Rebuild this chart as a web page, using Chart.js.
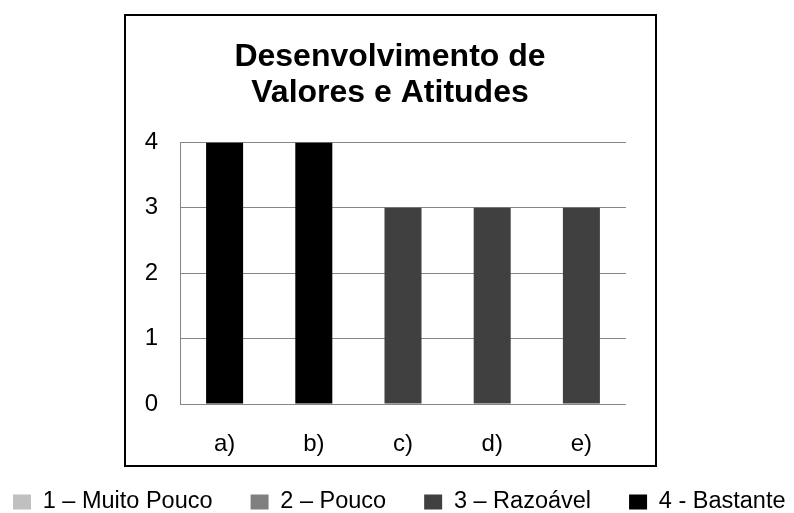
<!DOCTYPE html>
<html>
<head>
<meta charset="utf-8">
<script src="https://cdn.jsdelivr.net/npm/chart.js@4/dist/chart.umd.min.js"></script>
<style>
  html, body { margin: 0; padding: 0; background: #fff; }
  #wrap { width: 794px; height: 513px; position: relative; }
</style>
</head>
<body>
<div id="wrap"><canvas id="c" width="794" height="513"></canvas></div>
<script>
const categories = ['a)', 'b)', 'c)', 'd)', 'e)'];
const values = [4, 4, 3, 3, 3];
const levelLabels = ['1 – Muito Pouco', '2 – Pouco', '3 – Razoável', '4 - Bastante'];
const levelColors = ['#c0c0c0', '#808080', '#404040', '#000000'];
const yTicks = [0, 1, 2, 3, 4];
const titleLines = ['Desenvolvimento de', 'Valores e Atitudes'];

const barColors = values.map(v => levelColors[v - 1]);
const FONT = "'Liberation Sans', Arial, sans-serif";
const LEG_FONT = 23.5;
const LEG_PAD = 38;
const LEG_BOX_W = 18;
const LEG_BOX_H = 15;

const framePlugin = {
  id: 'frame',
  beforeLayout(chart) {
    const lg = chart.legend;
    if (lg && !lg._patched) {
      lg._patched = true;
      const origFit = lg.fit;
      lg.fit = function () {
        this.maxWidth = 3000;
        origFit.call(this);
        this.height = 0;
      };
    }
  },
  afterLayout(chart) {
    const lg = chart.legend;
    if (lg) {
      const itemH = Math.max(LEG_FONT, LEG_BOX_H);
      const rowY = 502 - itemH / 2;
      lg.left = 13 - LEG_PAD;
      lg.right = 3000;
      lg.top = rowY - LEG_PAD;
      lg.bottom = 520;
      lg.width = lg.right - lg.left;
      lg.height = lg.bottom - lg.top;
    }
  },
  beforeDraw(chart) {
    const ctx = chart.ctx;
    ctx.save();
    ctx.fillStyle = '#fff';
    ctx.fillRect(0, 0, chart.width, chart.height);
    ctx.restore();
  },
  afterDraw(chart) {
    const ctx = chart.ctx;
    ctx.save();
    ctx.strokeStyle = '#000';
    ctx.lineWidth = 2;
    ctx.strokeRect(125, 15, 531, 451);
    ctx.restore();
  }
};

new Chart(document.getElementById('c'), {
  type: 'bar',
  data: {
    labels: categories,
    datasets: [{
      data: values,
      backgroundColor: barColors,
      borderWidth: 0,
      barPercentage: 0.415,
      categoryPercentage: 1.0
    }]
  },
  options: {
    responsive: false,
    animation: false,
    layout: { padding: { left: -7, right: 7, top: 0, bottom: 0 } },
    plugins: {
      tooltip: { enabled: false },
      title: {
        display: true,
        text: titleLines,
        color: '#000',
        font: { family: FONT, size: 32, weight: 'bold', lineHeight: 1.1 },
        padding: { top: 40, bottom: 32 }
      },
      legend: {
        display: true,
        position: 'bottom',
        align: 'start',
        labels: {
          color: '#000',
          font: { family: FONT, size: LEG_FONT },
          boxWidth: LEG_BOX_W,
          boxHeight: LEG_BOX_H,
          padding: LEG_PAD,
          generateLabels: () => levelLabels.map((t, i) => ({
            text: t,
            fillStyle: levelColors[i],
            strokeStyle: levelColors[i],
            lineWidth: 0,
            hidden: false,
            index: i
          }))
        }
      }
    },
    scales: {
      x: {
        grid: { display: false, drawTicks: false },
        border: { display: false },
        ticks: { color: '#000', font: { family: FONT, size: 24 }, padding: 26 },
        afterFit(scale) { scale.height = 109; }
      },
      y: {
        min: 0,
        max: 4,
        afterBuildTicks(scale) { scale.ticks = yTicks.map(v => ({ value: v })); },
        grid: { color: '#868686', lineWidth: 1, drawTicks: false },
        border: { display: true, color: '#868686', width: 1 },
        ticks: { color: '#000', font: { family: FONT, size: 24 }, padding: 22 },
        afterFit(scale) { scale.width = 187; }
      },
      yr: {
        position: 'right',
        display: true,
        grid: { display: false, drawTicks: false },
        border: { display: false },
        ticks: { display: false },
        afterFit(scale) { scale.width = 161; }
      }
    }
  },
  plugins: [framePlugin]
});
</script>
</body>
</html>
